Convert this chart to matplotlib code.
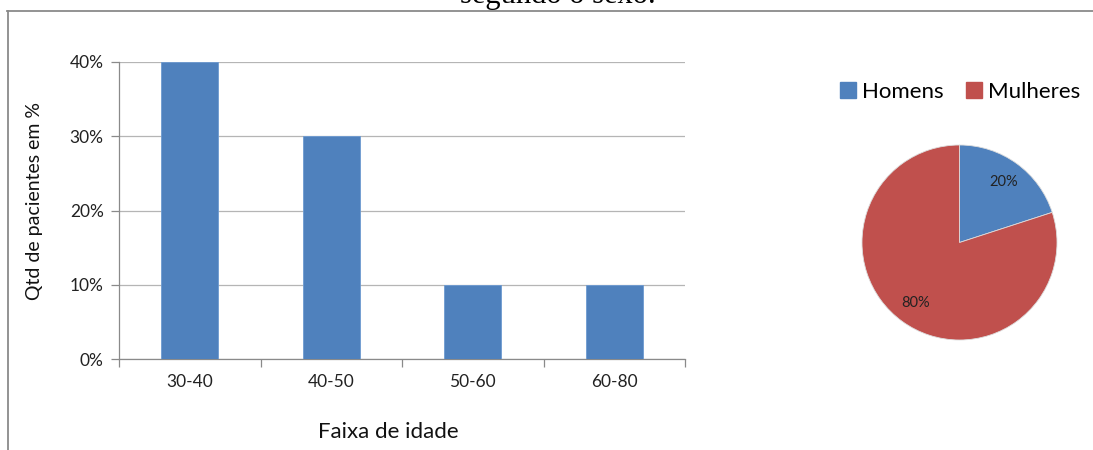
import matplotlib
matplotlib.use("Agg")
import matplotlib.pyplot as plt
from matplotlib.lines import Line2D
from matplotlib.patches import Patch
from matplotlib.ticker import FuncFormatter, FixedLocator

# ---- data ----
categories = ["30-40", "40-50", "50-60", "60-80"]
percent_patients = [0.40, 0.30, 0.10, 0.10]
y_ticks = [0.0, 0.1, 0.2, 0.3, 0.4]
sex_labels = ["Homens", "Mulheres"]
sex_values = [20, 80]

BLUE = "#4F81BD"
RED = "#C0504D"
FONT = ["Lato", "DejaVu Sans"]

W, H = 1093, 450
fig = plt.figure(figsize=(W / 100, H / 100), dpi=100)
fig.patch.set_facecolor("white")

def fx(px):
    return px / W

def fy(py):
    return (H - py) / H

# ---- outer frame and cut-off title ----
fig.add_artist(Line2D([fx(7.5), fx(7.5)], [fy(11), 0], transform=fig.transFigure,
                      color="#8a8a8a", lw=1.3))
fig.add_artist(Line2D([fx(7), 1.0], [fy(11), fy(11)], transform=fig.transFigure,
                      color="#8a8a8a", lw=1.3))
fig.text(fx(558), fy(3), "segundo o sexo.", family=["Liberation Serif", "DejaVu Serif"],
         fontsize=22, ha="center", va="baseline", color="black")

# ---- bar chart ----
ax = fig.add_axes([fx(119), fy(359), fx(685) - fx(119), fy(62) - fy(359)])
x = list(range(len(categories)))
ax.bar(x, percent_patients, width=0.4, color=BLUE, edgecolor="#6d9bd1",
       linewidth=0.6, zorder=3)
ax.set_xlim(-0.5, len(categories) - 0.5)
ax.set_ylim(0, 0.4)
ax.yaxis.set_major_locator(FixedLocator(y_ticks))
ax.yaxis.set_major_formatter(FuncFormatter(lambda v, p: f"{v * 100:.0f}%"))
ax.grid(axis="y", color="#b5b5b5", lw=0.9, zorder=0)
ax.set_axisbelow(True)

ax.set_xticks([i - 0.5 for i in range(len(categories) + 1)])
ax.set_xticklabels([])
ax.set_xticks(x, minor=True)
ax.set_xticklabels(categories, minor=True)
ax.tick_params(axis="x", which="major", length=6, color="#8a8a8a", width=0.9)
ax.tick_params(axis="x", which="minor", length=0, pad=11, labelsize=12.5,
               labelcolor="#222222")
ax.tick_params(axis="y", length=6, color="#8a8a8a", width=0.9, pad=5,
               labelsize=12.5, labelcolor="#222222")
for lab in ax.get_xticklabels(minor=True) + ax.get_yticklabels():
    lab.set_family(FONT)

for s in ["top", "right"]:
    ax.spines[s].set_visible(False)
for s in ["left", "bottom"]:
    ax.spines[s].set_color("#8a8a8a")
    ax.spines[s].set_linewidth(0.9)

ax.set_xlabel("Faixa de idade", family=FONT, fontsize=16, color="#111111",
              va="center", ha="center")
ax.xaxis.set_label_coords((388 - 119) / 566, (359 - 432) / 297)
ax.set_ylabel("Qtd de pacientes em %", family=FONT, fontsize=14, color="#111111",
              va="center", ha="center")
ax.yaxis.set_label_coords((35 - 119) / 566, (359 - 201.5) / 297)

# ---- pie chart ----
cx, cy, r = 959.5, 242.5, 97.5
pax = fig.add_axes([fx(cx - r), fy(cy + r), fx(2 * r), fy(cy - r) - fy(cy + r)])
wedges, texts, autotexts = pax.pie(
    sex_values, colors=[BLUE, RED], startangle=90, counterclock=False,
    autopct=lambda p: f"{p:.0f}%", pctdistance=0.77, radius=1.0,
    wedgeprops=dict(linewidth=0.6, edgecolor="#dddddd"),
    textprops=dict(family=FONT, fontsize=10.5, color="#222222"))
pax.set_xlim(-1, 1)
pax.set_ylim(-1, 1)
pax.set_aspect("auto")
pax.axis("off")

handles = [Patch(facecolor=BLUE, edgecolor=BLUE), Patch(facecolor=RED, edgecolor=RED)]
fig.legend(handles, sex_labels, loc="center left",
           bbox_to_anchor=(fx(840), fy(92)), ncol=2, frameon=False,
           prop=dict(family=FONT, size=16), handlelength=0.7, handleheight=0.7,
           handletextpad=0.3, columnspacing=1.0, borderpad=0, borderaxespad=0)

fig.savefig("out.png", dpi=100, facecolor="white")
